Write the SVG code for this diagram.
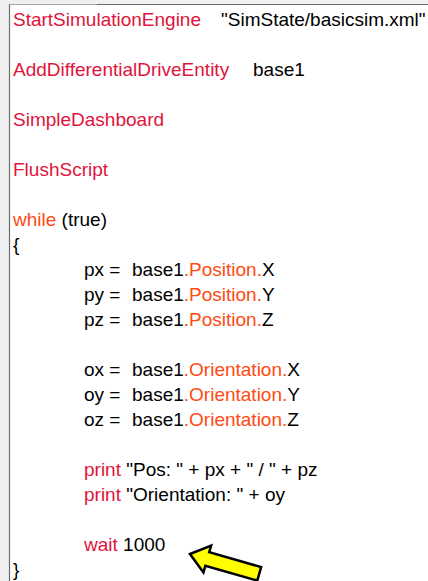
<svg xmlns="http://www.w3.org/2000/svg" width="428" height="581" viewBox="0 0 428 581">
  <style>
    text { font-family: "Liberation Sans", Arial, sans-serif; font-size: 19px; fill: #000; }
    .cmd { fill: #e0143c; }
    .kw { fill: #ff4a12; }
  </style>
  <!-- editor frame -->
  <g id="frame">
    <rect x="0" y="0" width="428" height="581" fill="#f0f0f0"/>
    <rect x="10" y="5" width="418" height="576" fill="#ffffff"/>
    <line x1="9.5" y1="4.5" x2="428" y2="4.5" stroke="#6e6e6e" stroke-width="1.2"/>
    <line x1="9.5" y1="4.5" x2="97" y2="4.5" stroke="#a8a8a8" stroke-width="1.2"/>
    <line x1="9.5" y1="4.5" x2="9.5" y2="581" stroke="#6e6e6e" stroke-width="1.2"/>
  </g>
  <!-- script lines -->
  <g id="code">
    <text x="13" y="26"><tspan class="cmd">StartSimulationEngine</tspan></text>
    <text x="221" y="26">"SimState/basicsim.xml"</text>
    <text x="13" y="76" class="cmd">AddDifferentialDriveEntity</text>
    <text x="253" y="76">base1</text>
    <text x="13" y="126" class="cmd">SimpleDashboard</text>
    <text x="13" y="176" class="cmd">FlushScript</text>
    <text x="13" y="226"><tspan class="kw">while</tspan> (true)</text>
    <text x="13" y="251">{</text>

    <text x="84" y="276">px =</text>
    <text x="132" y="276">base1<tspan class="kw">.Position.</tspan>X</text>
    <text x="84" y="301">py =</text>
    <text x="132" y="301">base1<tspan class="kw">.Position.</tspan>Y</text>
    <text x="84" y="326">pz =</text>
    <text x="132" y="326">base1<tspan class="kw">.Position.</tspan>Z</text>

    <text x="84" y="376">ox =</text>
    <text x="132" y="376">base1<tspan class="kw">.Orientation.</tspan>X</text>
    <text x="84" y="401">oy =</text>
    <text x="132" y="401">base1<tspan class="kw">.Orientation.</tspan>Y</text>
    <text x="84" y="426">oz =</text>
    <text x="132" y="426">base1<tspan class="kw">.Orientation.</tspan>Z</text>

    <text x="84" y="476" xml:space="preserve"><tspan class="cmd">print</tspan> "Pos: " + px + " / " + pz</text>
    <text x="84" y="501" xml:space="preserve"><tspan class="cmd">print</tspan> "Orientation: " + oy</text>

    <text x="84" y="551"><tspan class="cmd">wait</tspan> 1000</text>
    <text x="13" y="576">}</text>
  </g>
  <!-- pointer arrow -->
  <g id="arrow">
    <polygon points="0,0 18,-14 18,-7 72,-7 72,7 18,7 18,14" transform="translate(190 554) rotate(16)" fill="#ffff00" stroke="#000" stroke-width="2.5" stroke-linejoin="miter"/>
  </g>
</svg>
